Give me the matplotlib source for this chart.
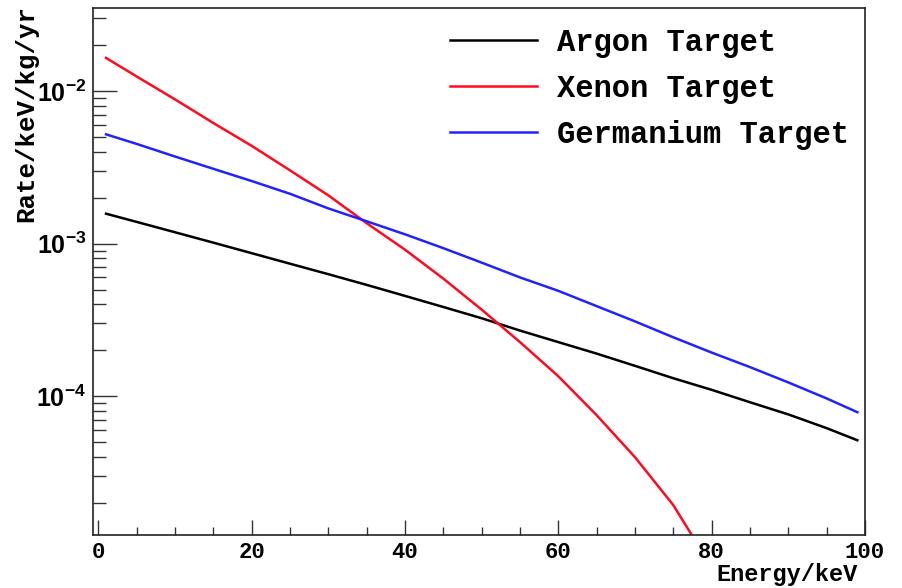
import math
import matplotlib
matplotlib.use('Agg')
import matplotlib.pyplot as plt
from matplotlib.ticker import FixedLocator, LogLocator, MultipleLocator, NullFormatter, FuncFormatter

# recoil spectra, rate per keV per kg per year
energy = [1, 5, 10, 15, 20, 25, 30, 35, 40, 45, 50, 55, 60, 65, 70, 75, 80, 85, 90, 95, 99]
argon = [1.570e-3, 1.387e-3, 1.186e-3, 1.014e-3, 8.65e-4, 7.38e-4, 6.30e-4, 5.36e-4, 4.54e-4,
         3.84e-4, 3.24e-4, 2.69e-4, 2.26e-4, 1.90e-4, 1.58e-4, 1.31e-4, 1.10e-4, 9.12e-5,
         7.59e-5, 6.17e-5, 5.14e-5]
germanium = [5.20e-3, 4.50e-3, 3.72e-3, 3.09e-3, 2.57e-3, 2.12e-3, 1.70e-3, 1.40e-3, 1.15e-3,
             9.33e-4, 7.50e-4, 6.00e-4, 4.90e-4, 3.89e-4, 3.09e-4, 2.43e-4, 1.93e-4, 1.55e-4,
             1.23e-4, 9.66e-5, 7.85e-5]
energy_xe = [1, 5, 10, 15, 20, 25, 30, 35, 40, 45, 50, 55, 60, 65, 70, 75, 78]
xenon = [1.648e-2, 1.245e-2, 8.81e-3, 6.17e-3, 4.37e-3, 3.02e-3, 2.07e-3, 1.36e-3, 9.12e-4,
         5.89e-4, 3.69e-4, 2.26e-4, 1.35e-4, 7.50e-5, 3.98e-5, 1.93e-5, 1.10e-5]

plt.rcParams['mathtext.fontset'] = 'custom'
plt.rcParams['mathtext.rm'] = 'Liberation Sans:bold'
plt.rcParams['mathtext.bf'] = 'Liberation Sans:bold'
mono = 'Liberation Mono'

fig = plt.figure(figsize=(9.02, 5.88), dpi=100)
ax = fig.add_axes([93 / 902, 1 - 535 / 588, (865 - 93) / 902, (535 - 8) / 588])

ax.plot(energy, argon, color='black', lw=1.8, label='Argon Target')
ax.plot(energy_xe, xenon, color='#ff0a1e', lw=1.8, label='Xenon Target')
ax.plot(energy, germanium, color='#2222ff', lw=1.8, label='Germanium Target')

ax.set_yscale('log')
ax.set_xlim(-0.7, 100)
ax.set_ylim(1.23e-5, 3.5e-2)

for s in ['left', 'bottom', 'right', 'top']:
    ax.spines[s].set_linewidth(1.2)
    ax.spines[s].set_color('#222222')

ax.xaxis.set_major_locator(MultipleLocator(20))
ax.xaxis.set_minor_locator(MultipleLocator(5))
ax.yaxis.set_major_locator(FixedLocator([1e-4, 1e-3, 1e-2]))
ax.yaxis.set_minor_locator(LogLocator(base=10, subs=range(2, 10)))
ax.yaxis.set_minor_formatter(NullFormatter())
ax.yaxis.set_major_formatter(FuncFormatter(lambda v, p: r'$10^{%d}$' % round(math.log10(v))))

ax.tick_params(axis='x', which='major', direction='in', length=11, width=1, color='#333333',
               pad=5, top=False)
ax.tick_params(axis='x', which='minor', direction='in', length=6, width=1, color='#333333',
               top=False)
ax.tick_params(axis='y', which='major', direction='in', length=17, width=1, color='#333333',
               pad=5, right=False, labelsize=18)
ax.tick_params(axis='y', which='minor', direction='in', length=9, width=1, color='#333333',
               right=False)

for lbl in ax.get_xticklabels():
    lbl.set_fontfamily(mono)
    lbl.set_fontweight('bold')
    lbl.set_fontsize(16)

fig.text(858 / 902, 1 - 575 / 588, 'Energy/keV', fontfamily=mono, fontweight='bold',
         fontsize=17, ha='right', va='center')
fig.text(26 / 902, 1 - 5 / 588, 'Rate/keV/kg/yr', fontfamily=mono, fontweight='bold',
         fontsize=18.5, rotation=90, ha='center', va='top')

leg = ax.legend(loc='upper left', bbox_to_anchor=(450 / 902, 1 - 28 / 588),
                bbox_transform=fig.transFigure, frameon=False, borderpad=0, borderaxespad=0,
                handlelength=2.85, handletextpad=0.65, labelspacing=0.52,
                prop={'family': mono, 'weight': 'bold', 'size': 22})

fig.savefig('out.png', dpi=100)
